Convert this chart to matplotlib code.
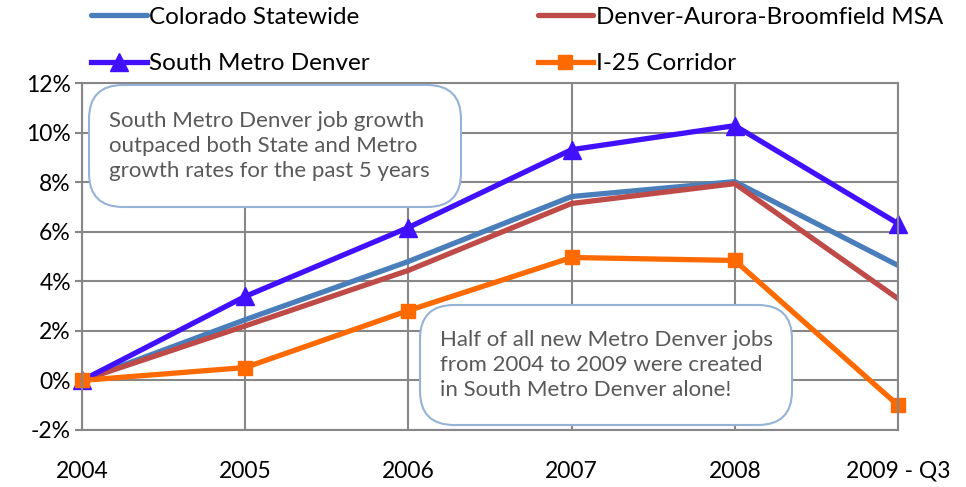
import matplotlib
matplotlib.use("Agg")
import matplotlib.pyplot as plt
from matplotlib.patches import FancyBboxPatch
from matplotlib.transforms import IdentityTransform

categories = ["2004", "2005", "2006", "2007", "2008", "2009 - Q3"]
colorado = [0.0, 2.45, 4.8, 7.42, 8.02, 4.64]
denver_msa = [0.0, 2.2, 4.44, 7.14, 7.94, 3.3]
south_metro = [0.0, 3.39, 6.17, 9.31, 10.28, 6.33]
i25 = [0.0, 0.52, 2.82, 4.96, 4.84, -1.0]
y_ticks = [-2, 0, 2, 4, 6, 8, 10, 12]

note1 = "South Metro Denver job growth\noutpaced both State and Metro\ngrowth rates for the past 5 years"
note2 = "Half of all new Metro Denver jobs\nfrom 2004 to 2009 were created\nin South Metro Denver alone!"

plt.rcParams['font.family'] = ['Lato', 'DejaVu Sans']

W, H = 966, 487
fig = plt.figure(figsize=(W / 100, H / 100), dpi=100)
ax = fig.add_axes([82 / W, 1 - 430 / H, (898 - 82) / W, (430 - 83) / H])

x = list(range(len(categories)))
grid_c = "#878787"
l1, = ax.plot(x, colorado, color="#4A7EBB", lw=3.8, label="Colorado Statewide", solid_capstyle="round")
l2, = ax.plot(x, denver_msa, color="#BE4B48", lw=3.8, label="Denver-Aurora-Broomfield MSA", solid_capstyle="round")
l3, = ax.plot(x, south_metro, color="#4010FF", lw=3.8, marker="^", ms=13, label="South Metro Denver", clip_on=False)
l4, = ax.plot(x, i25, color="#FF6A00", lw=3.8, marker="s", ms=10.5, label="I-25 Corridor", clip_on=False)

ax.set_xlim(0, len(categories) - 1)
ax.set_ylim(-2, 12)
ax.set_yticks(y_ticks)
ax.set_yticklabels([f"{v}%" for v in y_ticks])
ax.set_xticks(x)
ax.set_xticklabels(categories)
ax.grid(True, color=grid_c, lw=1.5)
ax.set_axisbelow(True)
for s in ax.spines.values():
    s.set_color(grid_c)
    s.set_linewidth(1.5)
ax.tick_params(axis="y", length=5, width=1.5, color=grid_c, pad=3, labelsize=16.5)
ax.tick_params(axis="x", length=0, pad=22, labelsize=16.5)

fig.legend([l1, l3, l2, l4],
           [l1.get_label(), l3.get_label(), l2.get_label(), l4.get_label()],
           ncol=2, loc="upper left", bbox_to_anchor=(86 / W, 1 - 2 / H),
           frameon=False, fontsize=17.5, handlelength=2.3, handletextpad=0.1,
           columnspacing=6.9, labelspacing=1.05, borderaxespad=0, borderpad=0.2)

ident = IdentityTransform()
def note(x0, y0, x1, y1, txt):
    # pixel coords from top-left
    p = FancyBboxPatch((x0, H - y1), x1 - x0, y1 - y0,
                       boxstyle="round,pad=0,rounding_size=34",
                       transform=ident, facecolor="white", edgecolor="#95B3D7",
                       lw=1.5, zorder=5)
    fig.add_artist(p)
    fig.text((x0 + 20) / W, 1 - ((y0 + y1) / 2) / H, txt, ha="left", va="center",
             fontsize=16, color="#595959", linespacing=1.32, zorder=6)

note(89, 85, 461, 207, note1)
note(420, 305, 792, 425, note2)

fig.savefig("out.png", dpi=100)
